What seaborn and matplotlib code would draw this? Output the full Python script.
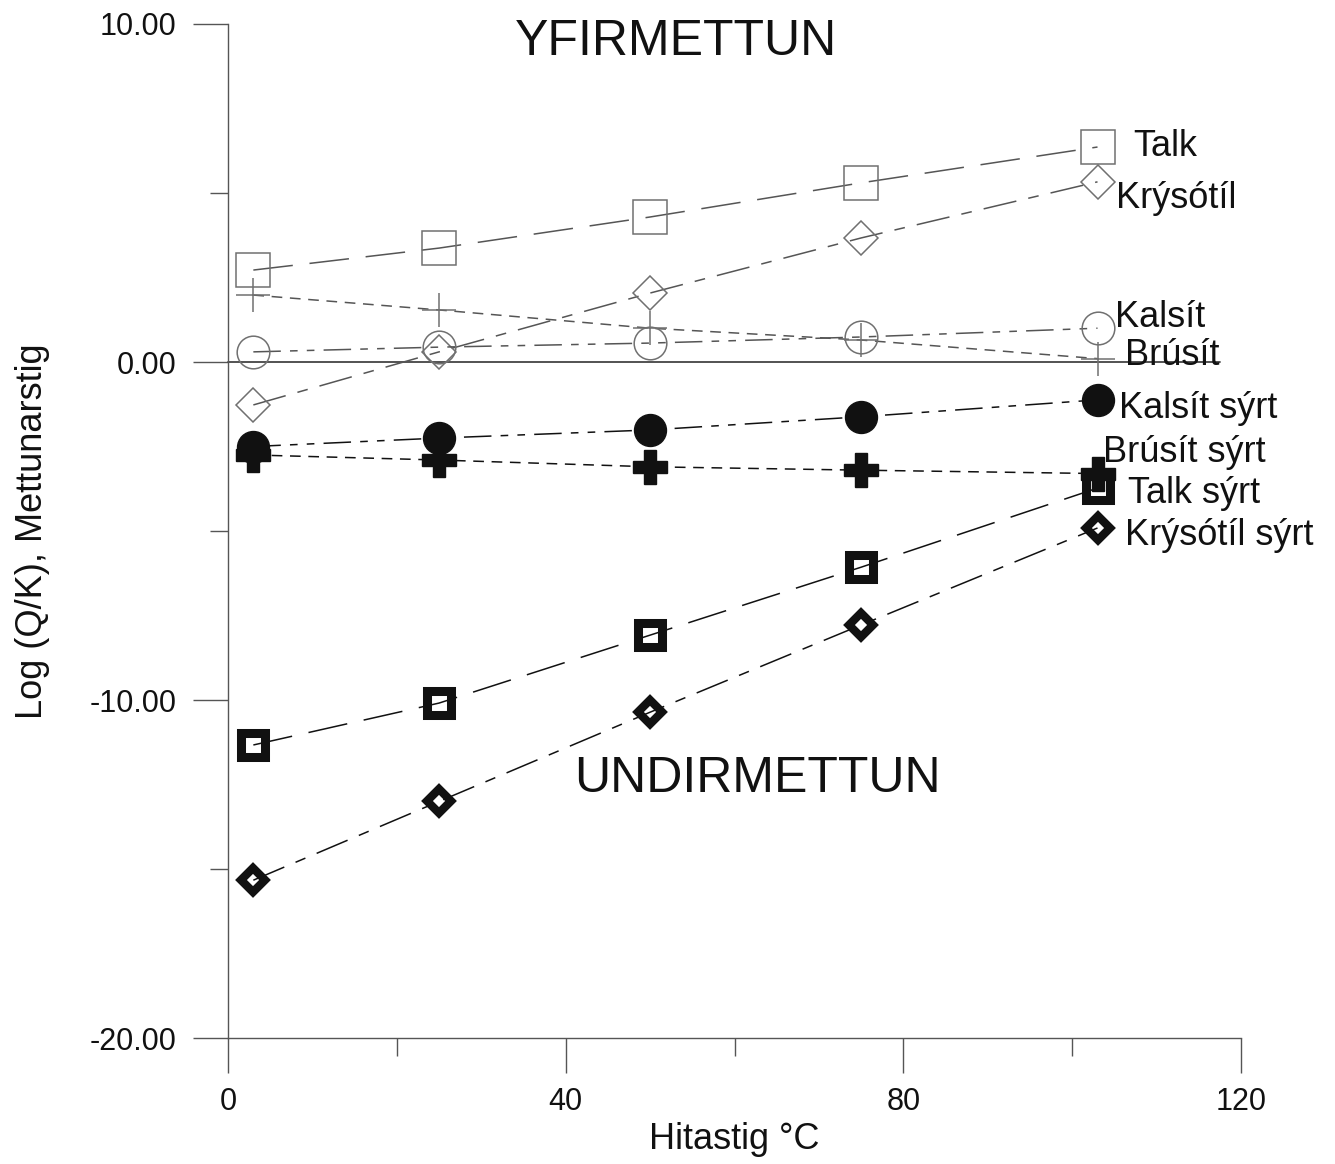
import matplotlib
matplotlib.use("Agg")
import matplotlib.pyplot as plt
import seaborn as sns
import numpy as np

# ---- data ----
temp = [3, 25, 50, 75, 103]
talk = [2.72, 3.37, 4.29, 5.30, 6.36]
krysotil = [-1.27, 0.30, 2.04, 3.67, 5.33]
brusit = [1.98, 1.54, 1.00, 0.65, 0.10]
kalsit = [0.30, 0.44, 0.56, 0.74, 1.00]
kalsit_syrt = [-2.50, -2.25, -2.01, -1.62, -1.12]
brusit_syrt = [-2.75, -2.90, -3.10, -3.20, -3.30]
talk_syrt = [-11.33, -10.09, -8.08, -6.07, -3.73]
krysotil_syrt = [-15.33, -13.00, -10.36, -7.78, -4.91]

labels = ["Talk", "Krýsótíl", "Kalsít", "Brúsít",
          "Kalsít sýrt", "Brúsít sýrt", "Talk sýrt", "Krýsótíl sýrt"]
label_x = [107.2, 105.2, 105.1, 106.3, 105.5, 103.6, 106.6, 106.3]
label_y = [6.09, 4.56, 1.04, -0.09, -1.66, -2.96, -4.17, -5.41]

x_major = [0, 40, 80, 120]
x_minor = [20, 60, 100]
y_major = [-20, -10, 0, 10]
y_minor = [-15, -5, 5]

sns.set_theme(style="ticks")
plt.rcParams["font.family"] = ["Liberation Sans", "DejaVu Sans"]

fig = plt.figure(figsize=(13.35, 11.64), dpi=100)
ax = fig.add_axes([0.1708, 0.1082, 0.7588, 0.8712])

GRAY_L = "#555555"
GRAY_M = "#707070"
BLK = "#111111"

long_dash = (0, (26, 11))
dash_dot = (0, (22, 8, 7, 8))
short_dash = (0, (7, 5))
dash_dot_dot = (0, (18, 6, 5, 6, 5, 6))

series = [
    # y, line color, linestyle, marker, ms, mfc, mec, mew
    (talk, GRAY_L, long_dash, "s", 24, "none", GRAY_M, 1.1),
    (krysotil, GRAY_L, dash_dot, "D", 17.5, "none", GRAY_M, 1.1),
    (brusit, GRAY_L, short_dash, "+", 24, "none", GRAY_M, 1.1),
    (kalsit, GRAY_L, dash_dot_dot, "o", 23.5, "none", GRAY_M, 1.1),
    (kalsit_syrt, BLK, dash_dot_dot, "o", 23, BLK, BLK, 1.0),
    (brusit_syrt, BLK, short_dash, "P", 24, BLK, BLK, 1.0),
    (talk_syrt, BLK, long_dash, "s", 17.5, "none", BLK, 6.5),
    (krysotil_syrt, BLK, dash_dot, "D", 12, "none", BLK, 6.0),
]

for yv, lc, ls, mk, ms, mfc, mec, mew in series:
    sns.lineplot(x=temp, y=yv, ax=ax, color=lc, linestyle=ls, linewidth=1.1,
                 marker=mk, markersize=ms, markerfacecolor=mfc,
                 markeredgecolor=mec, markeredgewidth=mew, clip_on=False,
                 errorbar=None)

# zero reference line
ax.axhline(0, xmin=0, xmax=0.979, color="#444444", linewidth=1.3, zorder=1,
           clip_on=False)

for lab, lx, ly in zip(labels, label_x, label_y):
    ax.text(lx, ly, lab, fontsize=26, ha="left", va="baseline", color="#111111",
            clip_on=False)

ax.text(53.1, 9.08, "YFIRMETTUN", fontsize=36, ha="center", va="baseline",
        color="#111111")
ax.text(62.7, -12.72, "UNDIRMETTUN", fontsize=36, ha="center", va="baseline",
        color="#111111")

ax.set_xlim(0, 120)
ax.set_ylim(-20, 10)
ax.set_xticks(x_major)
ax.set_xticks(x_minor, minor=True)
ax.set_yticks(y_major)
ax.set_yticks(y_minor, minor=True)
ax.set_yticklabels([f"{v:.2f}" for v in y_major])
ax.set_xticklabels([str(v) for v in x_major])

for side in ["top", "right"]:
    ax.spines[side].set_visible(False)
for side in ["left", "bottom"]:
    ax.spines[side].set_color("#555555")
    ax.spines[side].set_linewidth(1.0)

ax.tick_params(axis="both", which="major", direction="out", length=25,
               width=1.0, color="#555555", labelsize=22, labelcolor="#111111")
ax.tick_params(axis="both", which="minor", direction="out", length=13,
               width=1.0, color="#555555")
ax.tick_params(axis="y", which="major", pad=12)
ax.tick_params(axis="x", which="major", pad=10)

ax.set_xlabel("Hitastig °C", fontsize=26, color="#111111")
ax.set_ylabel("Log (Q/K), Mettunarstig", fontsize=26, color="#111111")
ax.xaxis.set_label_coords(0.5, -0.083)
ax.yaxis.set_label_coords(-0.176, 0.5)

fig.savefig("out.png", dpi=100, facecolor="white")
